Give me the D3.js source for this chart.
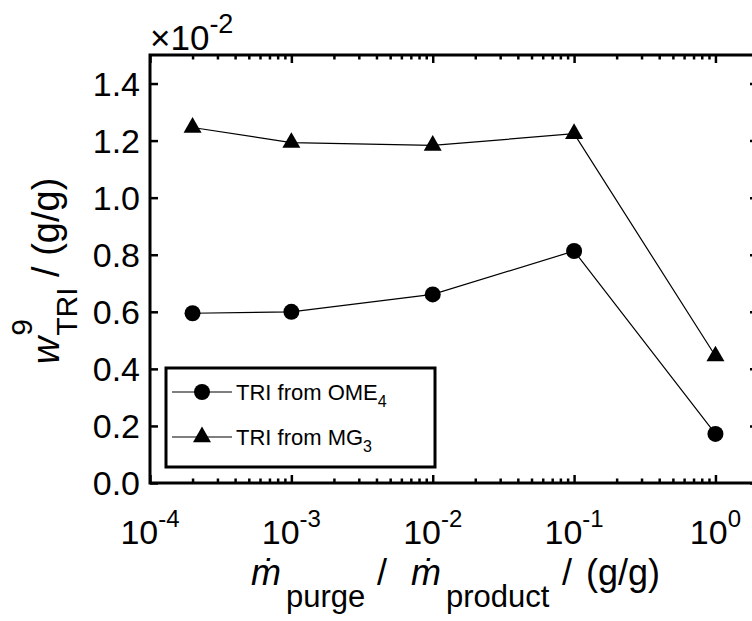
<!DOCTYPE html>
<html>
<head>
<meta charset="utf-8">
<script src="https://cdn.jsdelivr.net/npm/d3@7"></script>
<style>
  html, body { margin: 0; padding: 0; background: #fff; }
  svg { display: block; }
  text { font-family: "Liberation Sans", Arial, "DejaVu Sans", sans-serif; fill: #000; }
</style>
</head>
<body>
<svg id="chart" width="752" height="621"></svg>
<script>
// ---- data ----
const purgeRatio = [2e-4, 1e-3, 1e-2, 1e-1, 1e0];
const triFromOME4 = [0.595, 0.600, 0.661, 0.813, 0.172];
const triFromMG3 = [1.246, 1.193, 1.183, 1.224, 0.445];
const xMajorTicks = [1e-4, 1e-3, 1e-2, 1e-1, 1e0];
const xTickExponents = ["-4", "-3", "-2", "-1", "0"];
const yTicks = [0.0, 0.2, 0.4, 0.6, 0.8, 1.0, 1.2, 1.4];
const seriesNames = ["TRI from OME", "TRI from MG"];
const seriesSubs = ["4", "3"];
const yExponent = "-2";

(function () {
// ---- layout ----
const pL = 150, pR = 758, pT = 55, pB = 483;
const svg = d3.select("#chart");

const x = d3.scaleLog().domain([1e-4, 2]).range([pL, pR]);
const y = d3.scaleLinear().domain([0, 1.5]).range([pB, pT]);

const minorTicks = x.ticks().filter(t => !xMajorTicks.some(m => Math.abs(m - t) / m < 1e-9));

function styleAxis(g) {
  g.select(".domain").remove();
  g.selectAll(".tick line").attr("stroke", "#000").attr("stroke-width", 2.5);
  g.selectAll(".tick text").remove();
}

svg.append("g").attr("transform", `translate(0,${pB})`)
  .call(d3.axisBottom(x).tickValues(minorTicks).tickSize(-4.5).tickFormat("")).call(styleAxis);
svg.append("g").attr("transform", `translate(0,${pB})`)
  .call(d3.axisBottom(x).tickValues(xMajorTicks).tickSize(-8).tickFormat("")).call(styleAxis);
svg.append("g").attr("transform", `translate(0,${pT})`)
  .call(d3.axisTop(x).tickValues(minorTicks).tickSize(-4.5).tickFormat("")).call(styleAxis);
svg.append("g").attr("transform", `translate(0,${pT})`)
  .call(d3.axisTop(x).tickValues(xMajorTicks).tickSize(-8).tickFormat("")).call(styleAxis);
svg.append("g").attr("transform", `translate(${pL},0)`)
  .call(d3.axisLeft(y).tickValues(yTicks).tickSize(-8).tickFormat("")).call(styleAxis);
svg.append("g").attr("transform", `translate(${pR},0)`)
  .call(d3.axisRight(y).tickValues(yTicks).tickSize(-8).tickFormat("")).call(styleAxis);

svg.append("rect").attr("x", pL).attr("y", pT)
  .attr("width", pR - pL).attr("height", pB - pT)
  .attr("fill", "none").attr("stroke", "#000").attr("stroke-width", 3);

xMajorTicks.forEach((t, i) => {
  const tx = svg.append("text").attr("x", x(t)).attr("y", 544)
    .attr("text-anchor", "middle").attr("font-size", 34);
  tx.append("tspan").text("10");
  tx.append("tspan").attr("dy", -17).attr("font-size", 24).text(xTickExponents[i]);
});

yTicks.forEach(t => {
  svg.append("text").attr("x", 140).attr("y", y(t) + 12)
    .attr("text-anchor", "end").attr("font-size", 34)
    .text(d3.format(".1f")(t));
});

const ex = svg.append("text").attr("x", 150).attr("y", 50).attr("font-size", 35);
ex.append("tspan").text("\u00d710");
ex.append("tspan").attr("dy", -17).attr("font-size", 27).text(yExponent);

const line = d3.line().x(d => x(d[0])).y(d => y(d[1]));
const dataOME = purgeRatio.map((v, i) => [v, triFromOME4[i]]);
const dataMG = purgeRatio.map((v, i) => [v, triFromMG3[i]]);
[dataOME, dataMG].forEach(d => {
  svg.append("path").datum(d).attr("d", line)
    .attr("fill", "none").attr("stroke", "#000").attr("stroke-width", 1.2);
});
const circleSym = d3.symbol().type(d3.symbolCircle).size(Math.PI * 8 * 8);
const triSym = d3.symbol().type(d3.symbolTriangle).size(140);
svg.selectAll(".mOME").data(dataOME).join("path")
  .attr("transform", d => `translate(${x(d[0])},${y(d[1])})`)
  .attr("d", circleSym).attr("fill", "#000");
svg.selectAll(".mMG").data(dataMG).join("path")
  .attr("transform", d => `translate(${x(d[0])},${y(d[1])})`)
  .attr("d", triSym).attr("fill", "#000");

const lg = svg.append("g");
lg.append("rect").attr("x", 166).attr("y", 368).attr("width", 269).attr("height", 99)
  .attr("fill", "#fff").attr("stroke", "#000").attr("stroke-width", 3);
const legY = [392, 437];
const syms = [circleSym, triSym];
seriesNames.forEach((name, i) => {
  lg.append("line").attr("x1", 172).attr("x2", 232).attr("y1", legY[i]).attr("y2", legY[i])
    .attr("stroke", "#000").attr("stroke-width", 1.2);
  lg.append("path").attr("transform", `translate(202,${legY[i]})`).attr("d", syms[i]).attr("fill", "#000");
  const t = lg.append("text").attr("x", 236).attr("y", legY[i] + 8).attr("font-size", 22);
  t.append("tspan").text(name);
  t.append("tspan").attr("dy", 7).attr("font-size", 16).text(seriesSubs[i]);
});

// x axis label pieces
const xl = svg.append("text").attr("y", 585).attr("font-size", 36);
xl.append("tspan").attr("x", 251).attr("font-style", "italic").text("\u1e41");
xl.append("tspan").attr("x", 286).attr("dy", 22).attr("font-size", 31).text("purge");
xl.append("tspan").attr("x", 377).attr("dy", -22).text("/");
xl.append("tspan").attr("x", 411).attr("font-style", "italic").text("\u1e41");
xl.append("tspan").attr("x", 446).attr("dy", 22).attr("font-size", 31).text("product");
xl.append("tspan").attr("x", 562).attr("dy", -22).text("/");
xl.append("tspan").attr("x", 586).text("(g/g)");

// y axis label (rotated, stacked sup/sub)
const yl = svg.append("g");
const w = yl.append("text").attr("x", 0).attr("y", 0).attr("font-size", 38)
  .attr("font-style", "italic").text("w");
const ww = w.node().getComputedTextLength();
yl.append("text").attr("x", ww + 1).attr("y", -27).attr("font-size", 30).text("9");
const sub = yl.append("text").attr("x", ww + 1).attr("y", 18).attr("font-size", 30).text("TRI");
const sw = sub.node().getComputedTextLength();
const rest = yl.append("text").attr("x", ww + 1 + sw).attr("y", 0).attr("font-size", 38)
  .attr("xml:space", "preserve").text(" / (g/g)");
const total = ww + 1 + sw + rest.node().getComputedTextLength();
yl.attr("transform", `translate(59,${271 + total / 2}) rotate(-90)`);
})();
</script>
</body>
</html>
